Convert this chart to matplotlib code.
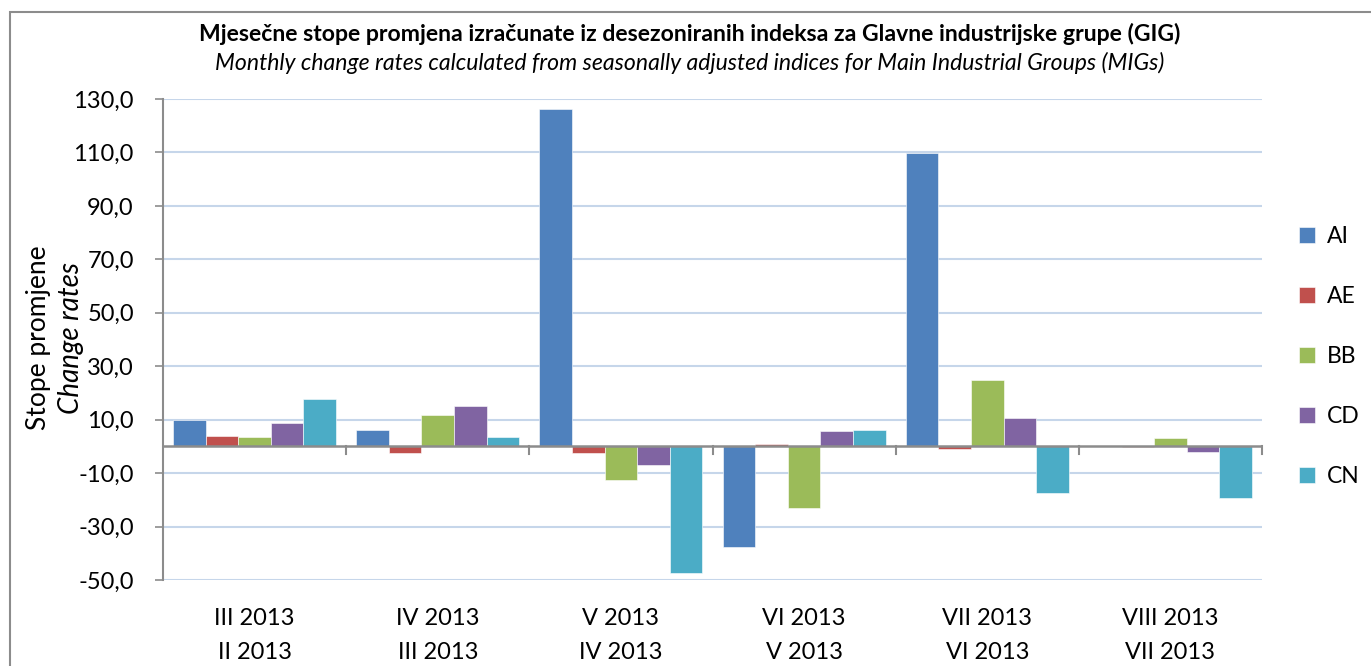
import numpy as np
import matplotlib.pyplot as plt
from matplotlib.patches import Rectangle

plt.rcParams['font.family'] = ['Lato', 'DejaVu Sans']

# podaci
kategorije = ['III 2013\nII 2013', 'IV 2013\nIII 2013', 'V 2013\nIV 2013',
              'VI 2013\nV 2013', 'VII 2013\nVI 2013', 'VIII 2013\nVII 2013']
serije = ['AI', 'AE', 'BB', 'CD', 'CN']
AI = [9.7, 6.0, 126.3, -37.5, 109.8, 0.1]
AE = [4.0, -2.6, -2.6, 0.9, -0.8, -0.3]
BB = [3.6, 11.6, -12.5, -23.1, 25.0, 3.1]
CD = [8.9, 15.0, -6.9, 5.9, 10.5, -2.1]
CN = [17.6, 3.6, -47.2, 6.2, -17.3, -19.3]
boje = ['#4F81BD', '#C0504D', '#9BBB59', '#8064A2', '#4BACC6']

fig = plt.figure(figsize=(13.71, 6.66), dpi=100)
ax = fig.add_axes([0.1189, 0.1291, 0.8016, 0.7223])

# okvir oko cijelog grafikona
fig.patches.append(Rectangle((10 / 1371, -0.01), 1.0, 1 - 12 / 666 + 0.01,
                             transform=fig.transFigure, fill=False,
                             edgecolor='#8c8c8c', linewidth=1.5))

x = np.arange(len(kategorije))
sirina = 0.178
for i, (vals, b) in enumerate(zip([AI, AE, BB, CD, CN], boje)):
    ax.bar(x - 2 * sirina + i * sirina, vals, sirina, color=b, label=serije[i],
           edgecolor='white', linewidth=0.4, zorder=3)

ax.set_xlim(-0.5, len(kategorije) - 0.5)
ax.set_ylim(-50, 130)
ax.set_yticks(np.arange(-50, 131, 20))
ax.set_yticklabels([f'{v:.1f}'.replace('.', ',') for v in np.arange(-50, 131, 20)])
ax.yaxis.grid(True, color='#c6d6ea', linewidth=1.5, zorder=0)
ax.tick_params(axis='y', labelsize=17, length=6, color='#8c8c8c', width=1.2, pad=15)

for s in ['top', 'right', 'bottom']:
    ax.spines[s].set_visible(False)
ax.spines['left'].set_color('#8c8c8c')
ax.spines['left'].set_linewidth(1.5)

# os kategorija na nuli
ax.axhline(0, color='#8c8c8c', linewidth=1.8, zorder=4)
for g in np.arange(0.5, len(kategorije), 1.0):
    ax.plot([g, g], [0, -3], color='#8c8c8c', linewidth=1.5, zorder=4, clip_on=False)
ax.set_xticks([])
for xi, lab in zip(x, kategorije):
    ax.text(xi, -60.5, lab, ha='center', va='top', fontsize=17, linespacing=1.78)

fig.text(0.503, 0.949, 'Mjesečne stope promjena izračunate iz desezoniranih indeksa za Glavne industrijske grupe (GIG)',
         ha='center', va='center', fontsize=16.6, fontweight='bold')
fig.text(0.503, 0.905, 'Monthly change rates calculated from seasonally adjusted indices for Main Industrial Groups (MIGs)',
         ha='center', va='center', fontsize=16.6, style='italic')

fig.text(0.028, 0.493, 'Stope promjene', rotation=90, ha='center', va='center', fontsize=19)
fig.text(0.052, 0.493, 'Change rates', rotation=90, ha='center', va='center', fontsize=20, style='italic')

ax.legend(loc='center left', bbox_to_anchor=(1.015, 0.465), frameon=False, fontsize=16.5,
          labelspacing=1.7, handlelength=0.7, handleheight=0.7, handletextpad=0.5)

fig.savefig('out.png', dpi=100)
